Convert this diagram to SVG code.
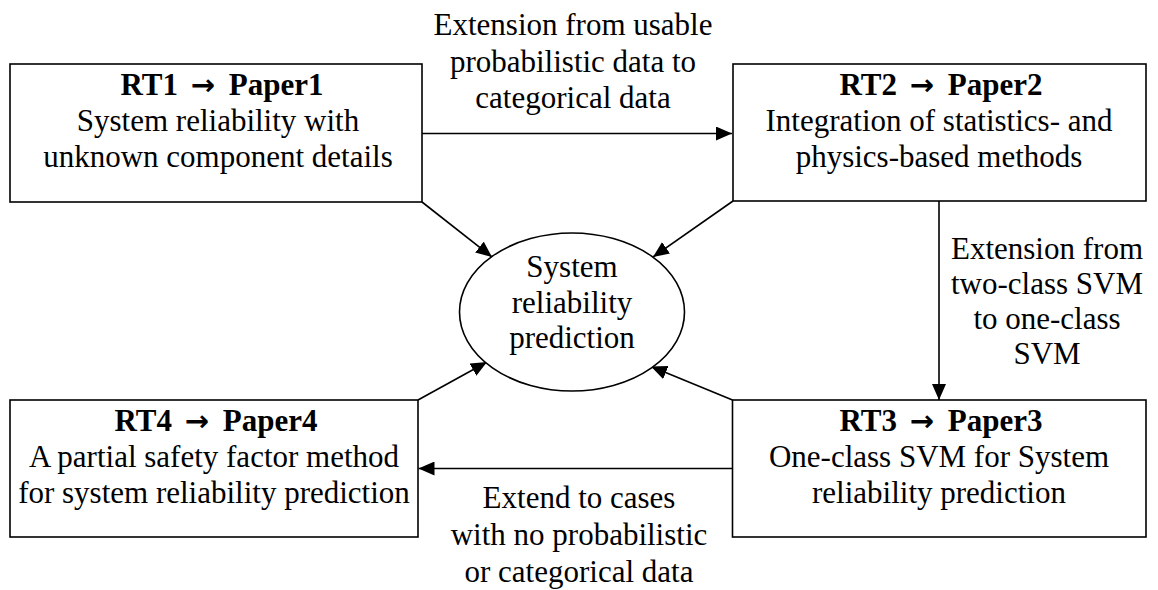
<svg xmlns="http://www.w3.org/2000/svg" width="1158" height="590" viewBox="0 0 1158 590">
<style>
  .box { fill: #ffffff; stroke: #000000; stroke-width: 1.6; }
  .t { font-family: "Liberation Serif", "Times New Roman", serif; font-size: 31px; fill: #000000; text-anchor: middle; }
  .b { font-weight: bold; }
  .arr { font-family: "DejaVu Sans", sans-serif; font-weight: bold; font-size: 29px; }
  .edge { stroke: #000000; stroke-width: 1.6; fill: none; marker-end: url(#ah); }
</style>
<defs>
  <marker id="ah" markerUnits="userSpaceOnUse" markerWidth="16" markerHeight="14" viewBox="0 0 16 14" refX="16" refY="7" orient="auto">
    <path d="M0,0 L16,7 L0,14 Z" fill="#000000"/>
  </marker>
</defs>
<rect width="1158" height="590" fill="#ffffff"/>
<g id="connectors">
  <line class="edge" x1="422" y1="133.5" x2="732" y2="133.5"/>
  <line class="edge" x1="939" y1="201" x2="939" y2="400"/>
  <line class="edge" x1="732" y1="468.5" x2="418.5" y2="468.5"/>
  <line class="edge" x1="422" y1="202" x2="492" y2="257"/>
  <line class="edge" x1="733" y1="201" x2="653" y2="257"/>
  <line class="edge" x1="418" y1="400" x2="487" y2="362"/>
  <line class="edge" x1="732.5" y1="400" x2="651" y2="366.5"/>
</g>
<g id="edge-labels">
  <text class="t" x="573" y="35">Extension from usable</text>
  <text class="t" x="573" y="71.5">probabilistic data to</text>
  <text class="t" x="573" y="108">categorical data</text>
  <text class="t" x="1047" y="259">Extension from</text>
  <text class="t" x="1047" y="294">two-class SVM</text>
  <text class="t" x="1047" y="329">to one-class</text>
  <text class="t" x="1047" y="364">SVM</text>
  <text class="t" x="579" y="508">Extend to cases</text>
  <text class="t" x="579" y="545">with no probabilistic</text>
  <text class="t" x="579" y="581.5">or categorical data</text>
</g>
<g id="node-rt1">
  <rect class="box" x="10" y="64" width="412" height="138"/>
  <text class="t b" x="222" y="95">RT1 <tspan class="arr" dx="5">→</tspan><tspan dx="6"> Paper1</tspan></text>
  <text class="t" x="218" y="131">System reliability with</text>
  <text class="t" x="218" y="166.5">unknown component details</text>
</g>
<g id="node-rt2">
  <rect class="box" x="733" y="64" width="413" height="137"/>
  <text class="t b" x="941" y="95">RT2 <tspan class="arr" dx="5">→</tspan><tspan dx="6"> Paper2</tspan></text>
  <text class="t" x="939" y="131">Integration of statistics- and</text>
  <text class="t" x="939" y="166.5">physics-based methods</text>
</g>
<g id="node-rt3">
  <rect class="box" x="732.5" y="400" width="413.5" height="137"/>
  <text class="t b" x="941" y="431">RT3 <tspan class="arr" dx="5">→</tspan><tspan dx="6"> Paper3</tspan></text>
  <text class="t" x="939" y="467">One-class SVM for System</text>
  <text class="t" x="939" y="503">reliability prediction</text>
</g>
<g id="node-rt4">
  <rect class="box" x="10" y="400" width="408" height="137"/>
  <text class="t b" x="216" y="431">RT4 <tspan class="arr" dx="5">→</tspan><tspan dx="6"> Paper4</tspan></text>
  <text class="t" x="214" y="467">A partial safety factor method</text>
  <text class="t" x="214" y="503">for system reliability prediction</text>
</g>
<g id="node-center">
  <ellipse class="box" cx="572" cy="312" rx="112.5" ry="79"/>
  <text class="t" x="572" y="277">System</text>
  <text class="t" x="572" y="312.5">reliability</text>
  <text class="t" x="572" y="348">prediction</text>
</g>
</svg>
